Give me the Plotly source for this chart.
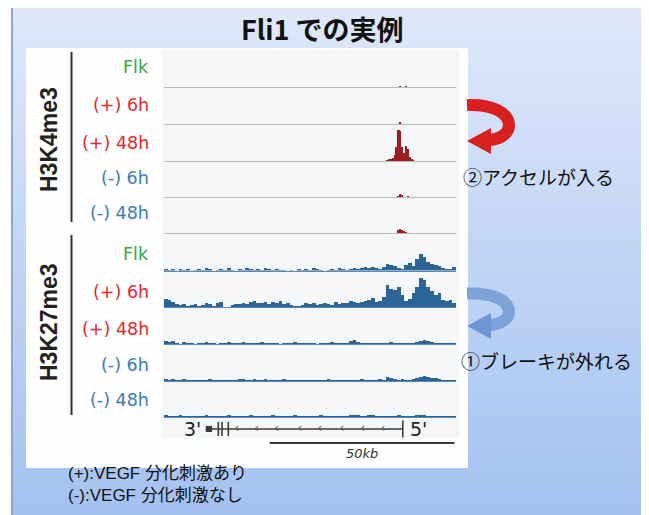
import plotly.graph_objects as go

# The page body has an 8px default margin, so the figure is drawn 8px in from the corner.
PAGE_W, PAGE_H = 649, 515
OFF = 8
W, H = PAGE_W - OFF, PAGE_H - OFF


def X(px):
    return (px - OFF) / W


def Y(py):
    return 1 - (py - OFF) / H


# ---------------- data ----------------
TRACK_LABELS = ["Flk", "(+) 6h", "(+) 48h", "(-) 6h", "(-) 48h"]
LABEL_COLORS = ["#3aa645", "#e5262b", "#e5262b", "#3b7bbd", "#3b7bbd"]
MARK_NAMES = ["H3K4me3", "H3K27me3"]

# H3K4me3 signal, 0.5 kb bins around the promoter
K4_POS_KB = [60.0, 60.5, 61.0, 61.5, 62.0, 62.5, 63.0, 63.5, 64.0, 64.5,
             65.0, 65.5, 66.0, 66.5, 67.0, 67.5, 68.0]
K4_FLK = [0, 0, 0, 0, 0, 0, 0, 0, 1, 0, 0, 1, 0, 0, 0, 0, 0]
K4_PLUS6H = [0, 0, 0, 0, 0, 0, 0, 0, 1.5, 0, 0, 0, 0, 0, 0, 0, 0]
K4_PLUS48H = [0, 1, 2, 2, 3, 6, 14, 31, 30, 14, 8, 15, 12, 4, 2, 1, 0]
K4_MINUS6H = [0, 0, 0, 0, 0, 0, 0, 0.5, 3, 2.5, 0, 0, 1, 0, 0, 0, 0]
K4_MINUS48H = [0, 0, 0, 0, 0, 0, 0, 3, 4, 3.5, 1.5, 0.5, 0, 0, 0, 0, 0]

# H3K27me3 signal, 1 kb bins over the whole locus (0-79 kb)
K27_FLK = [2, 1, 2, 0, 2, 1, 2, 0, 1, 2,
           1, 3, 2, 0, 1, 2, 1, 3, 1, 0,
           2, 1, 3, 2, 1, 2, 1, 3, 2, 1,
           2, 1, 1, 0, 1, 0, 2, 1, 2, 1,
           3, 2, 1, 0, 1, 2, 1, 3, 2, 1,
           2, 3, 2, 3, 4, 3, 4, 3, 2, 4,
           7, 6, 5, 3, 2, 6, 8, 5, 12, 17,
           14, 9, 7, 6, 5, 3, 2, 2, 4]
K27_PLUS6H = [8, 7, 5, 3, 2, 3, 1, 2, 3, 1,
              2, 4, 3, 1, 4, 5, 0, 0, 2, 3,
              3, 4, 3, 5, 6, 4, 4, 5, 3, 5,
              4, 6, 3, 4, 2, 1, 1, 2, 4, 3,
              4, 2, 3, 4, 3, 2, 5, 3, 4, 4,
              6, 5, 4, 5, 6, 7, 9, 5, 6, 10,
              22, 18, 17, 20, 12, 6, 8, 14, 20, 29,
              27, 20, 16, 12, 14, 7, 6, 7, 4]
K27_PLUS48H = [3, 2, 3, 1, 0, 2, 1, 1, 0, 1,
               1, 2, 1, 1, 0, 1, 1, 2, 1, 1,
               1, 2, 1, 1, 1, 1, 2, 1, 1, 1,
               1, 0, 1, 1, 1, 2, 1, 1, 1, 1,
               1, 0, 1, 1, 1, 2, 1, 1, 1, 1,
               3, 4, 2, 1, 1, 1, 1, 1, 1, 1,
               1, 2, 1, 1, 1, 1, 1, 1, 2, 3,
               4, 3, 2, 1, 1, 1, 1, 1, 1]
K27_MINUS6H = [2, 1, 2, 1, 1, 2, 1, 1, 1, 1,
               1, 1, 2, 1, 1, 1, 1, 1, 1, 1,
               2, 2, 1, 1, 2, 1, 1, 2, 1, 1,
               1, 1, 2, 1, 1, 1, 1, 1, 1, 1,
               1, 1, 1, 1, 2, 1, 1, 1, 1, 1,
               1, 1, 1, 2, 1, 1, 1, 1, 2, 1,
               4, 3, 2, 1, 2, 1, 1, 2, 3, 4,
               5, 4, 3, 3, 2, 1, 1, 1, 1]
K27_MINUS48H = [1.5, 1, 1, 1, 1.5, 1, 1, 1, 1, 1,
                1, 1.5, 1, 1, 1, 1, 1, 1.5, 1, 1,
                1, 1, 1, 1.5, 1, 1, 1, 1, 1, 1.5,
                1, 1, 1, 1, 1, 1.5, 1, 1, 1, 1,
                1, 1, 1.5, 1, 1, 1, 1, 1, 1, 1,
                1.5, 2, 1.5, 1, 1, 2, 1.5, 1, 1, 1,
                1, 1, 1, 1.5, 1, 1, 1, 1, 2, 2,
                1.5, 1, 1, 1, 1, 1, 1, 1, 1]
K27_BIN_KB = 1.0
K4_BIN_KB = 0.5
LOCUS_KB = [0, 79]

# Fli1 gene model (kb)
GENE_LINE_KB = [11.3, 64.6]
GENE_3UTR_KB = [11.3, 13.0]
GENE_EXON_KB = [14.7, 15.7, 17.4]
GENE_TSS_KB = [64.6]
GENE_CHEVRON_KB = [19.7, 25.1, 30.5, 36.8, 42.2, 48.1, 53.8, 59.2]
SCALE_BAR_KB = [28.6, 78.6]
SCALE_LABEL = "50kb"

K4_COLOR = "#9c1c20"
K27_COLOR = "#2b6497"

# ---------------- figure ----------------
fig = go.Figure()
layout_axes = {}

tracks = [
    (K4_POS_KB, K4_FLK, K4_BIN_KB, K4_COLOR),
    (K4_POS_KB, K4_PLUS6H, K4_BIN_KB, K4_COLOR),
    (K4_POS_KB, K4_PLUS48H, K4_BIN_KB, K4_COLOR),
    (K4_POS_KB, K4_MINUS6H, K4_BIN_KB, K4_COLOR),
    (K4_POS_KB, K4_MINUS48H, K4_BIN_KB, K4_COLOR),
]
for vals in [K27_FLK, K27_PLUS6H, K27_PLUS48H, K27_MINUS6H, K27_MINUS48H]:
    pos = [i * K27_BIN_KB + K27_BIN_KB / 2 for i in range(len(vals))]
    tracks.append((pos, vals, K27_BIN_KB, K27_COLOR))

BASELINES = [87, 124, 161, 197, 233, 270.5, 307, 344, 381, 417]
TRACK_H = 34
TRACK_X = [164, 456]


def axnames(n):
    s = "" if n == 1 else str(n)
    return "x" + s, "y" + s, "xaxis" + s, "yaxis" + s


for i, (pos, vals, w, col) in enumerate(tracks):
    xa, ya, xk, yk = axnames(i + 1)
    fig.add_trace(go.Bar(x=pos, y=vals, width=w,
                         marker=dict(color=col, line=dict(width=0)),
                         xaxis=xa, yaxis=ya, hoverinfo="skip", showlegend=False))
    b = BASELINES[i]
    line_col = "#b9b9b9" if i < 5 else "#5d88b3"
    layout_axes[xk] = dict(domain=[X(TRACK_X[0]), X(TRACK_X[1])], range=LOCUS_KB,
                           anchor=ya, showline=True, linecolor=line_col, linewidth=1,
                           showgrid=False, zeroline=False, showticklabels=False,
                           ticks="", fixedrange=True)
    layout_axes[yk] = dict(domain=[Y(b), Y(b - TRACK_H)], range=[0, TRACK_H],
                           anchor=xa, visible=False, fixedrange=True)

# gene model row
gx, gy, gxk, gyk = axnames(11)
GENE_Y, SCALE_Y, SCALE_TEXT_Y = 31, 17, 7
fig.add_trace(go.Scatter(x=GENE_LINE_KB, y=[GENE_Y] * 2, mode="lines",
                         line=dict(color="#3a3a3a", width=1.6),
                         xaxis=gx, yaxis=gy, hoverinfo="skip", showlegend=False))
fig.add_trace(go.Scatter(x=GENE_3UTR_KB, y=[GENE_Y] * 2, mode="lines",
                         line=dict(color="#3a3a3a", width=6),
                         xaxis=gx, yaxis=gy, hoverinfo="skip", showlegend=False))
fig.add_trace(go.Scatter(x=GENE_EXON_KB, y=[GENE_Y] * len(GENE_EXON_KB), mode="markers",
                         marker=dict(symbol="line-ns", size=10,
                                     line=dict(color="#3a3a3a", width=1.6)),
                         xaxis=gx, yaxis=gy, hoverinfo="skip", showlegend=False))
fig.add_trace(go.Scatter(x=GENE_TSS_KB, y=[GENE_Y], mode="markers",
                         marker=dict(symbol="line-ns", size=12,
                                     line=dict(color="#3a3a3a", width=1.6)),
                         xaxis=gx, yaxis=gy, hoverinfo="skip", showlegend=False))
fig.add_trace(go.Scatter(x=GENE_CHEVRON_KB, y=[GENE_Y + 0.5] * len(GENE_CHEVRON_KB),
                         mode="text", text=["‹"] * len(GENE_CHEVRON_KB),
                         textfont=dict(family="DejaVu Sans", size=12, color="#555555"),
                         xaxis=gx, yaxis=gy, hoverinfo="skip", showlegend=False))
fig.add_trace(go.Scatter(x=SCALE_BAR_KB, y=[SCALE_Y] * 2, mode="lines",
                         line=dict(color="#3a3a3a", width=2.2),
                         xaxis=gx, yaxis=gy, hoverinfo="skip", showlegend=False))
layout_axes[gxk] = dict(domain=[X(TRACK_X[0]), X(TRACK_X[1])], range=LOCUS_KB,
                        anchor=gy, visible=False, fixedrange=True)
layout_axes[gyk] = dict(domain=[Y(460), Y(420)], range=[0, 40], anchor=gx,
                        visible=False, fixedrange=True)

# ---------------- decorations ----------------
shapes = []
top_c = (223, 232, 250)
bot_c = (164, 194, 241)
N = 44
y0, y1 = 3, 515
for k in range(N):
    t = k / (N - 1)
    c = tuple(int(round(top_c[j] + (bot_c[j] - top_c[j]) * t)) for j in range(3))
    ya_ = y0 + (y1 - y0) * k / N
    yb_ = y0 + (y1 - y0) * (k + 1) / N + 0.6
    shapes.append(dict(type="rect", xref="paper", yref="paper", layer="below",
                       x0=X(12), x1=X(652), y0=Y(min(yb_, 516)), y1=Y(ya_),
                       fillcolor="rgb(%d,%d,%d)" % c, line=dict(width=0)))
shapes.append(dict(type="line", xref="paper", yref="paper", layer="below",
                   x0=X(12), x1=X(12), y0=Y(3), y1=Y(516),
                   line=dict(color="#8ea6cf", width=2)))
shapes.append(dict(type="line", xref="paper", yref="paper", layer="below",
                   x0=X(12), x1=X(652), y0=Y(3.5), y1=Y(3.5),
                   line=dict(color="#9fb2d4", width=1.5)))
# white image panel
shapes.append(dict(type="rect", xref="paper", yref="paper", layer="below",
                   x0=X(26), x1=X(468), y0=Y(468), y1=Y(48),
                   fillcolor="#fefefe", line=dict(width=0)))
# light grey browser area
shapes.append(dict(type="rect", xref="paper", yref="paper", layer="below",
                   x0=X(162), x1=X(459), y0=Y(438), y1=Y(50),
                   fillcolor="#f5f6f8", line=dict(width=0)))
for (ya_, yb_) in [(52, 222), (235, 415)]:
    shapes.append(dict(type="line", xref="paper", yref="paper",
                       x0=X(71.5), x1=X(71.5), y0=Y(yb_), y1=Y(ya_),
                       line=dict(color="#333333", width=2)))


def P(*pts):
    out = []
    for p in pts:
        if isinstance(p, str):
            out.append(p)
        else:
            out.append("%.5f,%.5f" % (X(p[0]), Y(p[1])))
    return " ".join(out)


for (yt, yb, col, head) in [(105, 140, "#d82020", "#d82020"),
                            (293.5, 325, "#7ca2d8", "#6d96d3")]:
    shapes.append(dict(type="path", xref="paper", yref="paper",
                       path=P("M", (467, yt), "C", (519, yt - 2), (519, yb), (487, yb)),
                       line=dict(color=col, width=12), fillcolor="rgba(0,0,0,0)"))
    shapes.append(dict(type="path", xref="paper", yref="paper",
                       path=P("M", (467, yb + 1), "L", (491, yb - 12), "L", (491, yb + 14), "Z"),
                       line=dict(width=0), fillcolor=head))

annotations = []


def ann(text, px, py, size, color="#111111", family="Liberation Sans", xanchor="center",
        angle=0, yanchor="middle"):
    annotations.append(dict(text=text, x=X(px), y=Y(py), xref="paper", yref="paper",
                            showarrow=False, xanchor=xanchor, yanchor=yanchor,
                            textangle=angle, align="left", borderpad=0,
                            font=dict(family=family, size=size, color=color)))


# title: anchored to the top edge of the figure so it is never clipped
ann("<b>Fli1 での実例</b>", 322, 8, 27, "#111111", "Noto Sans CJK JP", yanchor="top")

LABEL_Y = [67, 105, 142.5, 178, 213, 254.5, 292, 329, 365, 400]
for i, ly in enumerate(LABEL_Y):
    ann(TRACK_LABELS[i % 5], 150, ly, 17.5, LABEL_COLORS[i % 5], "DejaVu Sans", "right")

ann("<b>%s</b>" % MARK_NAMES[0], 49, 140, 23, "#222222", "Liberation Sans", angle=-90)
ann("<b>%s</b>" % MARK_NAMES[1], 49, 322, 23, "#222222", "Liberation Sans", angle=-90)

annotations.append(dict(text="3'", x=10.6, y=GENE_Y, xref=gx, yref=gy, showarrow=False,
                        xanchor="right", yanchor="middle",
                        font=dict(family="DejaVu Sans", size=19, color="#222222")))
annotations.append(dict(text="5'", x=66.0, y=GENE_Y, xref=gx, yref=gy, showarrow=False,
                        xanchor="left", yanchor="middle",
                        font=dict(family="DejaVu Sans", size=19, color="#222222")))
annotations.append(dict(text="<i>%s</i>" % SCALE_LABEL,
                        x=(SCALE_BAR_KB[0] + SCALE_BAR_KB[1]) / 2, y=SCALE_TEXT_Y,
                        xref=gx, yref=gy, showarrow=False, xanchor="center",
                        yanchor="middle",
                        font=dict(family="DejaVu Sans", size=13, color="#333333")))

ann("②アクセルが入る", 462, 177, 19, "#111111", "Noto Sans CJK JP", "left")
ann("①ブレーキが外れる", 460, 360, 19, "#111111", "Noto Sans CJK JP", "left")
ann("(+):VEGF 分化刺激あり", 67, 473, 17, "#111111",
    "Liberation Sans, Noto Sans CJK JP", "left")
ann("(-):VEGF 分化刺激なし", 67, 495.5, 17, "#111111",
    "Liberation Sans, Noto Sans CJK JP", "left")

fig.update_layout(width=W, height=H, margin=dict(l=0, r=0, t=0, b=0),
                  paper_bgcolor="#ffffff", plot_bgcolor="rgba(0,0,0,0)",
                  showlegend=False, shapes=shapes, annotations=annotations,
                  bargap=0, **layout_axes)

fig.write_html("out.html")
